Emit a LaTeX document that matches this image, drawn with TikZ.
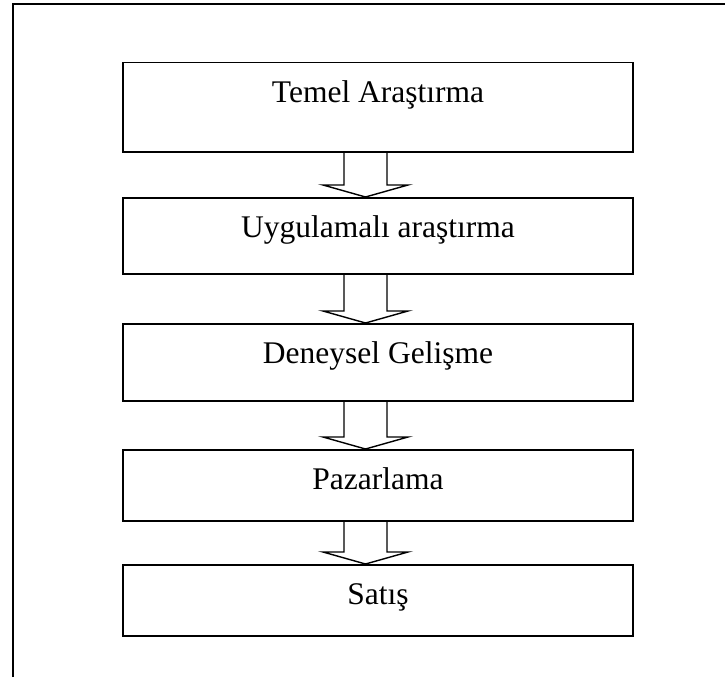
\documentclass[tikz,border=0pt]{standalone}
\usepackage{fontspec}
\setmainfont{Liberation Serif}
\usetikzlibrary{calc}
\tikzset{
  stage/.style={draw, line width=1.5pt, rectangle, anchor=north,
    minimum width=510pt, inner xsep=0pt, inner ysep=0pt,
    text height=40pt, font=\fontsize{31.5}{37}\selectfont},
  hollow/.style={draw, line width=1.4pt, line join=miter}
}
% open block arrow from the bottom of one stage to the top of the next
\newcommand{\blockarrow}[2]{%
  \draw[hollow] let \p1=(#1.south), \p2=(#2.north) in
    (\x1-34pt,\y1) -- (\x1-34pt,\y2+12pt) -- (\x1-55pt,\y2+12pt)
    -- (\x1-12.5pt,\y2) -- (\x1+30pt,\y2+12pt) -- (\x1+9pt,\y2+12pt)
    -- (\x1+9pt,\y1);}
\begin{document}
\begin{tikzpicture}[x=1pt,y=-1pt]
\useasboundingbox (0,0) rectangle (725,677);
% frame lines
\coordinate (fb) at (13,677);
\coordinate (fc) at (13,4);
\coordinate (fr) at (725,4);
\draw[line width=2pt] (fb) -- (fc) -- (fr);
% stages
\node[stage, text depth=49pt] (b1) at (378,62) {Temel Araştırma};
\node[stage, text depth=36pt] (b2) at (378,197) {Uygulamalı araştırma};
\node[stage, text depth=37pt] (b3) at (378,323) {Deneysel Gelişme};
\node[stage, text depth=31pt] (b4) at (378,449) {Pazarlama};
\node[stage, text depth=31pt] (b5) at (378,564) {Satış};
% arrows between stages
\blockarrow{b1}{b2}
\blockarrow{b2}{b3}
\blockarrow{b3}{b4}
\blockarrow{b4}{b5}
\end{tikzpicture}
\end{document}
